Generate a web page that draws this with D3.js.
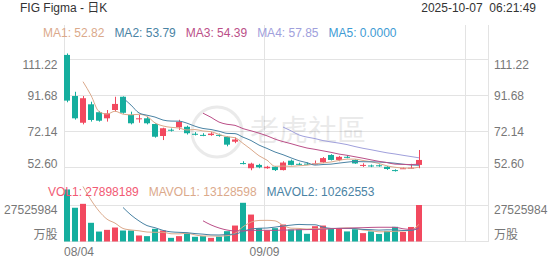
<html lang="zh">

<head>
    <meta charset="UTF-8">
    <title>FIG Figma - 日K</title>
    <style>
        body { margin: 0; background: #fff; }
        svg text { font-family: Arial, "Liberation Sans", "Noto Sans CJK SC", sans-serif; font-size: 12px; }
        .grid { stroke: #e3e3e3; stroke-width: 1; shape-rendering: crispEdges; }
        .axis-label { fill: #777; }
        .ma { fill: none; stroke-width: 1; }
    </style>
</head>

<body>

    <svg width="552" height="265"></svg>

    <script src="https://cdn.jsdelivr.net/npm/d3@7"></script>
    <script>
        (function () {
            'use strict';

            // first two days are off screen, only used for the averages
            var dates = ['07/31', '08/01',
                '08/04', '08/05', '08/06', '08/07', '08/08', '08/11', '08/12', '08/13', '08/14', '08/15',
                '08/18', '08/19', '08/20', '08/21', '08/22', '08/25', '08/26', '08/27', '08/28', '08/29',
                '09/02', '09/03', '09/04', '09/05', '09/08', '09/09', '09/10', '09/11', '09/12',
                '09/15', '09/16', '09/17', '09/18', '09/19', '09/22', '09/23', '09/24', '09/25', '09/26',
                '09/29', '09/30', '10/01', '10/02', '10/03', '10/06'];
            var opens = [85.0, 123.0,
                113.7, 91.4, 76.9, 86.9, 82.6, 79.3, 83.8, 91.0, 81.1, 79.0,
                79.3, 76.2, 69.7, 73.1, 74.4, 74.7, 70.9, 70.3, 70.2, 70.3,
                69.3, 66.6, 55.0, 52.2, 54.0, 52.2, 53.0, 51.2, 56.3,
                54.6, 54.7, 54.5, 55.4, 59.4, 56.7, 58.4, 56.7, 53.8, 53.7,
                53.8, 53.0, 51.2, 52.0, 52.3, 54.0];
            var highs = [124.6, 142.9,
                114.5, 93.7, 91.4, 88.3, 83.3, 83.8, 91.0, 91.2, 82.9, 81.1,
                80.0, 76.5, 74.2, 73.8, 78.5, 75.3, 71.8, 71.2, 71.8, 71.0,
                69.6, 68.9, 56.0, 55.2, 54.6, 53.5, 53.3, 56.0, 56.9,
                55.2, 55.3, 56.4, 58.3, 59.8, 58.9, 59.3, 57.0, 54.9, 54.2,
                54.3, 53.4, 51.6, 52.6, 54.6, 62.1];
            var lows = [85.0, 113.5,
                88.0, 78.6, 76.0, 77.5, 77.5, 77.5, 82.9, 81.8, 76.0, 76.9,
                76.0, 68.8, 67.5, 72.1, 73.0, 70.5, 70.0, 69.6, 69.8, 69.3,
                64.1, 65.8, 54.3, 51.1, 52.2, 51.9, 50.7, 51.0, 53.8,
                53.9, 54.0, 54.3, 55.0, 56.4, 56.0, 57.6, 54.6, 52.9, 52.8,
                53.0, 51.3, 50.4, 51.8, 51.9, 52.2];
            var closes = [115.5, 122.0,
                88.9, 79.3, 90.2, 78.4, 78.0, 82.0, 87.1, 82.3, 76.6, 79.3,
                76.6, 69.3, 73.9, 72.9, 77.4, 71.2, 70.6, 70.0, 71.0, 70.0,
                65.0, 67.8, 54.7, 54.7, 52.7, 53.0, 51.2, 55.3, 54.0,
                54.3, 54.5, 54.8, 57.7, 56.7, 58.4, 58.1, 54.8, 54.0, 53.4,
                53.5, 51.8, 50.9, 52.2, 52.5, 56.7];
            var volumes = [66000000, 50000000,
                39800000, 25800000, 28800000, 14300000, 7600000, 8900000, 10700000, 8400000, 8400000, 4600000,
                4100000, 9700000, 8400000, 2800000, 4100000, 6400000, 3600000, 4100000, 2800000, 3800000,
                7900000, 12200000, 29600000, 20600000, 10200000, 8400000, 10200000, 13000000, 9200000,
                9200000, 5900000, 11700000, 12200000, 10200000, 10200000, 7700000, 9400000, 6400000, 7700000,
                5782540, 8120000, 11230000, 7290000, 11104801, 27898189];
            var FIRST_VISIBLE = 2;

            var maNames = ['MA1', 'MA2', 'MA3', 'MA4', 'MA5'];
            var maPeriods = [5, 10, 20, 30, 60];
            var maValues = ['52.82', '53.79', '54.39', '57.85', '0.0000'];
            var maColors = ['#dba98b', '#4a83a4', '#bb4f88', '#a0a0dc', '#3e9bd4'];

            var volNames = ['VOL1', 'MAVOL1', 'MAVOL2'];
            var volValues = ['27898189', '13128598', '10262553'];
            var volColors = ['#f25a74', '#dba98b', '#4a83a4'];
            var volMaPeriods = [5, 10, 20];
            var volMaColors = ['#dba98b', '#4a83a4', '#bb4f88'];

            var priceTicks = [111.22, 91.68, 72.14, 52.60];
            var volTicks = [27525984];
            var volUnit = '万股';
            var dateTicks = ['08/04', '09/09'];

            var UP = '#f2495f';
            var DOWN = '#15ae9e';
            var LEFT = 64, RIGHT = 488, EDGE = 465;

            var svg = d3.select('svg');

            var rows = dates.map(function (d, i) {
                return { date: d, o: opens[i], h: highs[i], l: lows[i], c: closes[i], v: volumes[i], i: i };
            });
            var visible = rows.slice(FIRST_VISIBLE);

            function movingAvg(arr, n) {
                return arr.map(function (v, i) {
                    return i < n - 1 ? null : d3.mean(arr.slice(i - n + 1, i + 1));
                });
            }

            var x = d3.scaleBand()
                .domain(visible.map(function (d) { return d.date; }))
                .range([63, 423])
                .paddingInner(0.25)
                .paddingOuter(0.125);
            var cx = function (d) { return x(d) + x.bandwidth() / 2; };

            var y = d3.scaleLinear().domain([52.60, 111.22]).range([167.5, 59.5]);
            var yv = d3.scaleLinear().domain([0, 27525984]).range([241.5, 205.5]);

            // header
            svg.append('text').attr('x', 20).attr('y', 12).attr('fill', '#333').text('FIG Figma - 日K');
            svg.append('text').attr('x', 536).attr('y', 12).attr('fill', '#333')
                .attr('text-anchor', 'end').text('2025-10-07  06:21:49').style('white-space', 'pre');

            // grid
            var grid = svg.append('g');
            priceTicks.forEach(function (t) {
                grid.append('line').attr('class', 'grid')
                    .attr('x1', LEFT).attr('x2', RIGHT).attr('y1', y(t)).attr('y2', y(t));
            });
            volTicks.concat([0]).forEach(function (t) {
                grid.append('line').attr('class', 'grid')
                    .attr('x1', LEFT).attr('x2', RIGHT).attr('y1', yv(t)).attr('y2', yv(t));
            });
            var vlines = dateTicks.map(function (d) { return Math.round(x(d)) + 0.5; }).concat([EDGE + 0.5, RIGHT + 0.5]);
            vlines.forEach(function (vx) {
                grid.append('line').attr('class', 'grid')
                    .attr('x1', vx).attr('x2', vx).attr('y1', 25).attr('y2', yv(0));
            });

            // watermark
            var wm = svg.append('g').attr('opacity', 0.08);
            wm.append('circle').attr('cx', 217).attr('cy', 132).attr('r', 25)
                .attr('fill', 'none').attr('stroke', '#000').attr('stroke-width', 3);
            wm.append('text').attr('x', 250).attr('y', 141).style('font-size', '29px')
                .attr('fill', '#000').text('老虎社區');

            // price labels
            var pMax = d3.max(priceTicks), pMin = d3.min(priceTicks);
            function dyFor(t) { return t === pMax ? 9 : (t === pMin ? 0.5 : 4.3); }
            priceTicks.forEach(function (t) {
                var lbl = d3.format('.2f')(t);
                svg.append('text').attr('class', 'axis-label').attr('x', 57.5).attr('y', y(t) + dyFor(t))
                    .attr('text-anchor', 'end').text(lbl);
                svg.append('text').attr('class', 'axis-label').attr('x', 494).attr('y', y(t) + dyFor(t)).text(lbl);
            });
            volTicks.forEach(function (t) {
                [[57.5, 'end'], [494, 'start']].forEach(function (p) {
                    svg.append('text').attr('class', 'axis-label').attr('x', p[0]).attr('y', yv(t) + 8)
                        .attr('text-anchor', p[1]).text(t);
                    svg.append('text').attr('class', 'axis-label').attr('x', p[0]).attr('y', yv(0) - 2.5)
                        .attr('text-anchor', p[1]).text(volUnit);
                });
            });

            // date labels
            dateTicks.forEach(function (d) {
                var t = svg.append('text').attr('class', 'axis-label').attr('y', 256)
                    .attr('text-anchor', 'middle').text(d);
                var w = t.node().getComputedTextLength();
                t.attr('x', Math.max(Math.round(x(d)) + 0.5, LEFT + w / 2));
            });

            // candles
            var candle = svg.append('g').selectAll('g')
                .data(visible).enter().append('g');
            candle.append('line')
                .attr('x1', function (d) { return Math.round(cx(d.date)) + 0.5; })
                .attr('x2', function (d) { return Math.round(cx(d.date)) + 0.5; })
                .attr('y1', function (d) { return y(d.h); })
                .attr('y2', function (d) { return y(d.l); })
                .attr('stroke', function (d) { return d.c >= d.o ? UP : DOWN; });
            candle.append('rect')
                .attr('x', function (d) { return x(d.date); })
                .attr('width', x.bandwidth())
                .attr('y', function (d) { return y(Math.max(d.o, d.c)); })
                .attr('height', function (d) { return Math.max(1, Math.abs(y(d.o) - y(d.c))); })
                .attr('fill', function (d) { return d.c >= d.o ? UP : DOWN; });

            // price moving averages
            var line = d3.line()
                .defined(function (d) { return d.v != null; })
                .x(function (d) { return cx(d.date); })
                .y(function (d) { return d.y(d.v); })
                .curve(d3.curveMonotoneX);
            maPeriods.forEach(function (n, k) {
                var ma = movingAvg(closes, n);
                var pts = visible.map(function (d) { return { date: d.date, v: ma[d.i], y: y }; });
                svg.append('path').attr('class', 'ma').attr('stroke', maColors[k]).attr('d', line(pts));
            });

            // volume bars
            svg.append('g').selectAll('rect')
                .data(visible).enter().append('rect')
                .attr('x', function (d) { return x(d.date); })
                .attr('width', x.bandwidth())
                .attr('y', function (d) { return yv(d.v); })
                .attr('height', function (d) { return yv(0) - yv(d.v); })
                .attr('fill', function (d) { return d.c >= d.o ? UP : DOWN; });

            volMaPeriods.forEach(function (n, k) {
                var ma = movingAvg(volumes, n);
                var pts = visible.map(function (d) { return { date: d.date, v: ma[d.i], y: yv }; });
                svg.append('path').attr('class', 'ma').attr('stroke', volMaColors[k]).attr('d', line(pts));
            });

            // legends
            function legend(names, values, colors, x0, yb) {
                var cur = x0;
                names.forEach(function (n, k) {
                    var t = svg.append('text').attr('x', cur).attr('y', yb).attr('fill', colors[k])
                        .text(n + ': ' + values[k]);
                    cur += t.node().getComputedTextLength() + 10;
                });
            }
            legend(maNames, maValues, maColors, 43, 37);
            legend(volNames, volValues, volColors, 48, 196);
        })();
    </script>
</body>

</html>
